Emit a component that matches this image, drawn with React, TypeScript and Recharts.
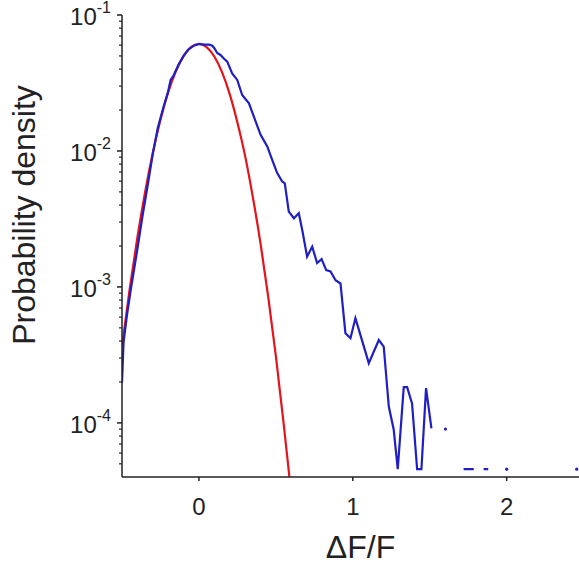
import { LineChart, Line, XAxis, YAxis } from "recharts";

// empirical density (blue); null = empty bin
const blueX = [
  -0.5, -0.49, -0.467, -0.44, -0.433, -0.4, -0.367, -0.333, -0.3, -0.267, -0.233, -0.2, -0.184, -0.167,
  -0.133, -0.1, -0.067, -0.033, 0, 0.033, 0.067, 0.087, 0.1, 0.119, 0.14, 0.162, 0.184, 0.216, 0.249,
  0.281, 0.325, 0.357, 0.4, 0.444, 0.476, 0.508, 0.541, 0.558, 0.584, 0.617, 0.649, 0.671, 0.703, 0.736,
  0.768, 0.797, 0.827, 0.855, 0.888, 0.92, 0.952, 0.985, 1.017, 1.104, 1.169, 1.201, 1.234, 1.266, 1.292,
  1.331, 1.353, 1.385, 1.418, 1.446, 1.476, 1.511, 1.55, 1.602, 1.66, 1.72, 1.786, 1.82, 1.85, 1.88, 1.94,
  2.0, 2.2, 2.455,
];
const blueY = [
  1.97e-4, 3.9e-4, 6.3e-4, 1.0e-3, 1.12e-3, 1.9e-3, 3.3e-3, 5.6e-3, 9.5e-3, 0.0148, 0.0205, 0.0275, 0.0333,
  0.0355, 0.043, 0.05, 0.056, 0.0595, 0.0612, 0.0605, 0.0605, 0.0594, 0.057, 0.0525, 0.0508, 0.0479, 0.0454,
  0.0372, 0.0333, 0.0258, 0.0224, 0.0179, 0.0132, 0.0108, 8.6e-3, 6.9e-3, 5.96e-3, 5.78e-3, 3.58e-3, 3.2e-3,
  3.48e-3, 2.63e-3, 1.67e-3, 1.98e-3, 1.5e-3, 1.6e-3, 1.33e-3, 1.3e-3, 1.12e-3, 1.06e-3, 4.57e-4, 4.2e-4,
  5.9e-4, 2.75e-4, 4.07e-4, 3.64e-4, 1.32e-4, 8.9e-5, 4.57e-5, 1.83e-4, 1.83e-4, 1.39e-4, 4.57e-5, 4.57e-5,
  1.8e-4, 9.1e-5, null, 9.0e-5, null, 4.57e-5, 4.57e-5, null, 4.57e-5, 4.57e-5, null, 4.57e-5, null, 4.57e-5,
];

// gaussian fit (red)
const redX = [
  -0.5, -0.45, -0.4, -0.35, -0.3, -0.25, -0.2, -0.15, -0.1, -0.05, 0, 0.05, 0.1, 0.15, 0.2, 0.25, 0.3,
  0.35, 0.4, 0.45, 0.5, 0.55, 0.6,
];
const redY = [
  3.65e-4, 9.66e-4, 2.31e-3, 4.98e-3, 9.68e-3, 0.017, 0.027, 0.0386, 0.0499, 0.0582, 0.0612, 0.0581, 0.0495,
  0.038, 0.0262, 0.0162, 9.2e-3, 4.6e-3, 2.1e-3, 8.5e-4, 3.1e-4, 1.0e-4, 3.0e-5,
];

const xTicks = [0, 1, 2];
const yMajor = [1e-4, 1e-3, 1e-2, 1e-1];
const yExp = ["-4", "-3", "-2", "-1"];
const yMinor = [
  5e-5, 6e-5, 7e-5, 8e-5, 9e-5, 2e-4, 3e-4, 4e-4, 5e-4, 6e-4, 7e-4, 8e-4, 9e-4,
  2e-3, 3e-3, 4e-3, 5e-3, 6e-3, 7e-3, 8e-3, 9e-3, 2e-2, 3e-2, 4e-2, 5e-2, 6e-2, 7e-2, 8e-2, 9e-2,
];

const BLUE = "#1f1fc4";
const RED = "#e3141c";
const AXIS = "#222";
const FONT = "'Liberation Sans', Arial, Helvetica, sans-serif";

const blueData = blueX.map((x, i) => ({ x, y: blueY[i] }));
const redData = redX.map((x, i) => ({ x, y: redY[i] }));

const isolated = (i: number) =>
  blueY[i] != null && blueY[i - 1] == null && blueY[i + 1] == null;

function YTick({ x, y, payload }: any) {
  const i = yMajor.findIndex((m) => Math.abs(m - payload.value) / m < 1e-6);
  if (i < 0) {
    return <line x1={x - 3} x2={x} y1={y} y2={y} stroke={AXIS} strokeWidth={1.2} />;
  }
  return (
    <g>
      <line x1={x - 5} x2={x} y1={y} y2={y} stroke={AXIS} strokeWidth={1.5} />
      <text x={x - 11} y={y + 10} textAnchor="end" fontFamily={FONT} fontSize={24} fill="#222">
        <tspan>10</tspan>
        <tspan dy={-12} fontSize={16}>{yExp[i]}</tspan>
      </text>
    </g>
  );
}

function XTick({ x, y, payload }: any) {
  return (
    <g>
      <line x1={x} x2={x} y1={y} y2={y + 4} stroke={AXIS} strokeWidth={1.5} />
      <text x={x} y={y + 38} textAnchor="middle" fontFamily={FONT} fontSize={24} fill="#222">
        {payload.value}
      </text>
    </g>
  );
}

function TopTick({ x, y }: any) {
  return <line x1={x} x2={x} y1={y} y2={y - 4} stroke={AXIS} strokeWidth={1.5} />;
}

export default function App() {
  return (
    <div style={{ position: "absolute", left: 0, top: 0, width: 579, height: 565, overflow: "hidden", background: "#fff" }}>
      <LineChart width={599} height={565} margin={{ top: 15, right: 0, bottom: 0, left: 0 }}>
        <XAxis
          dataKey="x"
          type="number"
          domain={[-0.5, 2.6]}
          allowDataOverflow
          ticks={xTicks}
          interval={0}
          height={88}
          tickSize={0}
          tickMargin={0}
          tickLine={false}
          tick={<XTick />}
          axisLine={{ stroke: AXIS, strokeWidth: 1.5 }}
          label={{
            value: "ΔF/F",
            position: "insideBottom",
            offset: 7,
            style: { fontFamily: FONT, fontSize: 32, fill: "#222" },
          }}
        />
        <XAxis
          xAxisId="top"
          orientation="top"
          dataKey="x"
          type="number"
          domain={[-0.5, 2.6]}
          allowDataOverflow
          ticks={xTicks}
          interval={0}
          height={0}
          tickSize={0}
          tickMargin={0}
          tickLine={false}
          tick={<TopTick />}
          axisLine={{ stroke: AXIS, strokeWidth: 1.5 }}
        />
        <YAxis
          type="number"
          scale="log"
          domain={[4e-5, 0.1]}
          allowDataOverflow
          ticks={[...yMinor, ...yMajor].sort((a, b) => a - b)}
          interval={0}
          width={122}
          tickSize={0}
          tickMargin={0}
          tickLine={false}
          tick={<YTick />}
          axisLine={{ stroke: AXIS, strokeWidth: 1.5 }}
          label={{
            content: () => (
              <text
                x={0}
                y={0}
                transform="translate(35 215) rotate(-90)"
                textAnchor="middle"
                fontFamily={FONT}
                fontSize={32}
                fill="#222"
              >
                Probability density
              </text>
            ),
          }}
        />
        <Line
          data={redData}
          dataKey="y"
          type="monotone"
          stroke={RED}
          strokeWidth={2.2}
          dot={false}
          isAnimationActive={false}
        />
        <Line
          data={blueData}
          dataKey="y"
          type="linear"
          stroke={BLUE}
          strokeWidth={2.2}
          connectNulls={false}
          isAnimationActive={false}
          dot={(p: any) =>
            isolated(p.index) && p.cx != null ? (
              <circle key={p.index} cx={p.cx} cy={p.cy} r={1.6} fill={BLUE} />
            ) : (
              <g key={p.index} />
            )
          }
        />
      </LineChart>
    </div>
  );
}
